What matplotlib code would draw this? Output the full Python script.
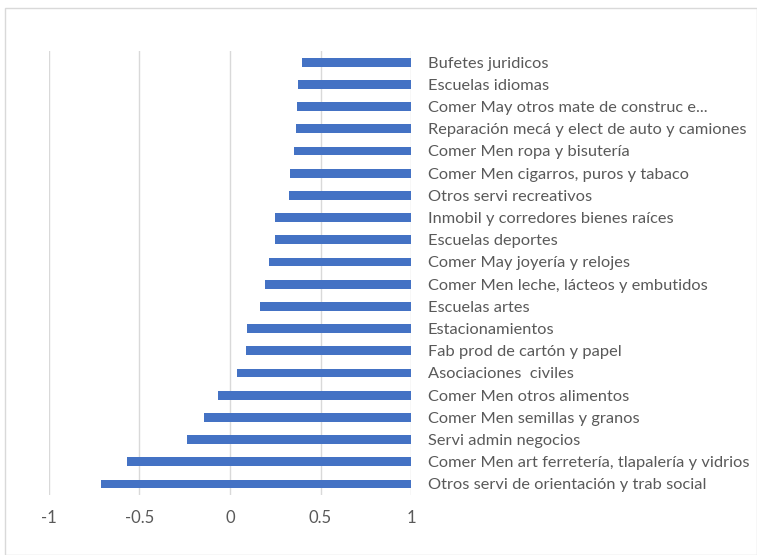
import numpy as np
import matplotlib
matplotlib.use("Agg")
import matplotlib.pyplot as plt
from matplotlib.patches import FancyBboxPatch

# categories from top to bottom, as in the chart
categorias = [
    "Bufetes juridicos",
    "Escuelas idiomas",
    "Comer May otros mate de construc e...",
    "Reparación mecá y elect de auto y camiones",
    "Comer Men ropa y bisutería",
    "Comer Men cigarros, puros y tabaco",
    "Otros servi recreativos",
    "Inmobil y corredores bienes raíces",
    "Escuelas deportes",
    "Comer May joyería y relojes",
    "Comer Men leche, lácteos y embutidos",
    "Escuelas artes",
    "Estacionamientos",
    "Fab prod de cartón y papel",
    "Asociaciones  civiles",
    "Comer Men otros alimentos",
    "Comer Men semillas y granos",
    "Servi admin negocios",
    "Comer Men art ferretería, tlapalería y vidrios",
    "Otros servi de orientación y trab social",
]
valores = [0.396, 0.378, 0.372, 0.363, 0.352, 0.333, 0.324, 0.250, 0.249, 0.216,
           0.195, 0.166, 0.092, 0.090, 0.039, -0.066, -0.142, -0.238, -0.571, -0.713]
ticks_x = [-1, -0.5, 0, 0.5, 1]
etiquetas_x = ["-1", "-0.5", "0", "0.5", "1"]

plt.rcParams['font.family'] = ['Lato', 'DejaVu Sans']
gris = '#595959'

fig = plt.figure(figsize=(7.57, 5.55), dpi=100)
ax = fig.add_axes([0.0647, 0.108, 0.4783, 0.800])

# chart frame
fig.patches.append(FancyBboxPatch((0.006, 0.0), 0.994, 0.985, boxstyle="square,pad=0",
                                  transform=fig.transFigure, fill=False,
                                  edgecolor='#d9d9d9', linewidth=1.0))

pos = np.arange(len(categorias))
vals = np.array(valores)
# the category axis crosses at 1, so bars start at 1
ax.barh(pos, vals - 1, left=1, height=0.4, color='#4472C4', zorder=3)

ax.set_xlim(-1, 1)
ax.set_ylim(len(categorias) - 0.5, -0.5)
ax.set_xticks(ticks_x)
ax.set_xticklabels(etiquetas_x, fontsize=12, color=gris)
ax.tick_params(axis='x', length=0, pad=11)

ax.yaxis.tick_right()
ax.set_yticks(pos)
ax.set_yticklabels(categorias, fontsize=11.8, color=gris)
ax.tick_params(axis='y', length=0, pad=12)

ax.grid(axis='x', color='#d9d9d9', linewidth=1, zorder=0)
for s in ax.spines.values():
    s.set_visible(False)

fig.savefig("out.png", dpi=100)
